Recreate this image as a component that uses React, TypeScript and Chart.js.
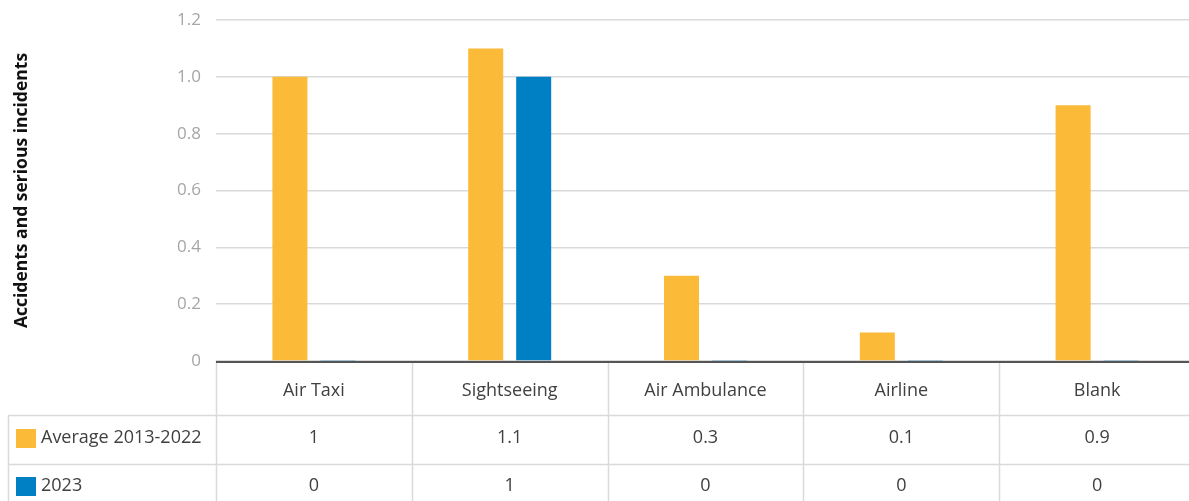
import React, { useEffect, useRef } from "react";
import { Chart, registerables } from "chart.js";

Chart.register(...registerables);

const categories = ["Air Taxi", "Sightseeing", "Air Ambulance", "Airline", "Blank"];
const avgValues = [1, 1.1, 0.3, 0.1, 0.9];
const values2023 = [0, 1, 0, 0, 0];
const seriesLabels = ["Average 2013-2022", "2023"];
const seriesColors = ["#FBBA38", "#0080C4"];
const yAxisTitle = "Accidents and serious incidents";
const tableLabels = [
  ["1", "1.1", "0.3", "0.1", "0.9"],
  ["0", "1", "0", "0", "0"],
];

const FONT = "'Open Sans', 'Noto Sans', sans-serif";

const tablePlugin = {
  id: "dataTable",
  afterDraw(chart: any) {
    const { ctx, chartArea: ca, scales } = chart;
    const x = scales.x;
    const n = categories.length;
    const band = x.getPixelForValue(1) - x.getPixelForValue(0);
    const left = x.getPixelForValue(0) - band / 2;
    const rowLines = [ca.bottom + 54, ca.bottom + 103];
    const bottom = ca.bottom + 160;
    const tableLeft = 8;
    ctx.save();
    ctx.strokeStyle = "#dadada";
    ctx.lineWidth = 1.5;
    for (let i = 0; i <= n; i++) {
      const px = Math.round(left + i * band) + 0.5;
      ctx.beginPath();
      ctx.moveTo(px, ca.bottom);
      ctx.lineTo(px, bottom);
      ctx.stroke();
    }
    ctx.beginPath();
    ctx.moveTo(tableLeft + 0.5, rowLines[0]);
    ctx.lineTo(tableLeft + 0.5, bottom);
    ctx.stroke();
    rowLines.forEach((ry) => {
      ctx.beginPath();
      ctx.moveTo(tableLeft, ry + 0.5);
      ctx.lineTo(chart.width, ry + 0.5);
      ctx.stroke();
    });
    ctx.strokeStyle = "#555555";
    ctx.lineWidth = 2;
    ctx.beginPath();
    ctx.moveTo(ca.left, ca.bottom + 1);
    ctx.lineTo(chart.width, ca.bottom + 1);
    ctx.stroke();

    ctx.fillStyle = "#404040";
    ctx.font = `18px ${FONT}`;
    ctx.textAlign = "center";
    ctx.textBaseline = "middle";
    categories.forEach((c, i) => {
      ctx.fillText(c, x.getPixelForValue(i), ca.bottom + 30);
    });
    const rowCenters = [rowLines[0] + 23, rowLines[1] + 22];
    tableLabels.forEach((row, r) => {
      row.forEach((t, i) => {
        ctx.fillText(t, x.getPixelForValue(i), rowCenters[r]);
      });
    });
    ctx.textAlign = "left";
    seriesLabels.forEach((s, r) => {
      ctx.fillStyle = seriesColors[r];
      ctx.fillRect(16, rowCenters[r] - 9, 20, 19);
      ctx.fillStyle = "#404040";
      ctx.fillText(s, 41, rowCenters[r]);
    });
    ctx.restore();
  },
};

export default function App() {
  const ref = useRef<HTMLCanvasElement>(null);
  useEffect(() => {
    if (!ref.current) return;
    const chart = new Chart(ref.current, {
      type: "bar",
      data: {
        labels: categories,
        datasets: [
          {
            label: seriesLabels[0],
            data: avgValues,
            backgroundColor: seriesColors[0],
            categoryPercentage: 0.49,
            barPercentage: 0.73,
            minBarLength: 1,
          },
          {
            label: seriesLabels[1],
            data: values2023,
            backgroundColor: seriesColors[1],
            categoryPercentage: 0.49,
            barPercentage: 0.73,
            minBarLength: 1,
          },
        ],
      },
      options: {
        responsive: false,
        animation: false,
        layout: { padding: { top: 20, bottom: 140, left: 0, right: 0 } },
        plugins: { legend: { display: false }, tooltip: { enabled: false } },
        scales: {
          x: { display: false },
          y: {
            min: 0,
            max: 1.2,
            border: { display: false },
            grid: {
              color: "#d9d9d9",
              lineWidth: 1.5,
              drawTicks: true,
              tickLength: 8,
              tickColor: "rgba(0,0,0,0)",
            },
            ticks: {
              stepSize: 0.2,
              padding: 7,
              color: "#a6a6a6",
              font: { family: FONT, size: 17 },
              callback: (v: any) => (Number(v) === 0 ? "0" : Number(v).toFixed(1)),
            },
            title: {
              display: true,
              text: yAxisTitle,
              color: "#111111",
              font: { family: FONT, size: 17.5, weight: "bold" },
              padding: { top: 12, bottom: 0 },
            },
            afterFit: (scale: any) => {
              scale.width = 216;
            },
          },
        },
      },
      plugins: [tablePlugin],
    });
    return () => chart.destroy();
  }, []);
  return (
    <div style={{ position: "fixed", left: 0, top: 0, width: 1189, height: 501, overflow: "hidden", background: "#fff" }}>
      <canvas ref={ref} width={1195} height={501} style={{ width: 1195, height: 501 }} />
    </div>
  );
}
